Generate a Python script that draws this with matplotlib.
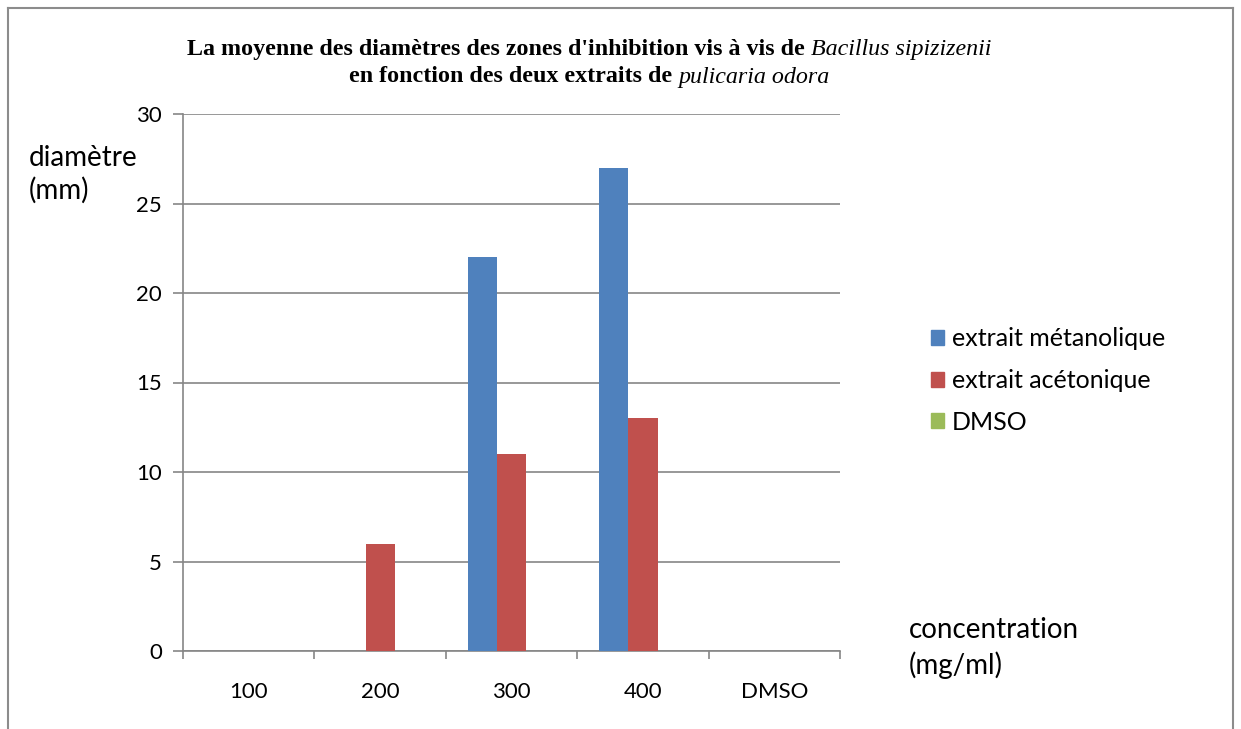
import numpy as np
import matplotlib.pyplot as plt
from matplotlib.lines import Line2D
from matplotlib.patches import Patch

categories = ['100', '200', '300', '400', 'DMSO']
series_names = ['extrait métanolique', 'extrait acétonique', 'DMSO']
methanol = [0, 0, 22, 27, 0]
acetone = [0, 6, 11, 13, 0]
dmso = [0, 0, 0, 0, 0]
colors = ['#4F81BD', '#C0504D', '#9BBB59']

W, H = 1241, 729
fig = plt.figure(figsize=(W / 100, H / 100), dpi=100)
ax = fig.add_axes([183 / W, 1 - 651 / H, (840 - 183) / W, (651 - 114) / H])

sans = ['Lato', 'DejaVu Sans']
grid_c = '#868686'

x = np.arange(len(categories))
bw = 1 / 4.5
for i, (vals, c) in enumerate(zip([methanol, acetone, dmso], colors)):
    ax.bar(x + (i - 1) * bw, vals, width=bw, color=c, zorder=3)

ax.set_xlim(-0.5, len(categories) - 0.5)
ax.set_ylim(0, 30)
ax.set_yticks(range(0, 31, 5))
ax.set_xticks(x)
ax.set_xticklabels(categories)
ax.set_xticks(np.arange(-0.5, len(categories), 1), minor=True)
ax.tick_params(axis='x', which='major', length=0, pad=22, labelsize=16)
ax.tick_params(axis='x', which='minor', length=6, color=grid_c, width=1.2)
ax.tick_params(axis='y', length=7, color=grid_c, width=1.2, labelsize=16, pad=8)
for lab in ax.get_xticklabels() + ax.get_yticklabels():
    lab.set_family(sans)
ax.yaxis.grid(True, color=grid_c, linewidth=1.2, zorder=0)
ax.set_axisbelow(True)
for s in ['top', 'right']:
    ax.spines[s].set_visible(False)
for s in ['left', 'bottom']:
    ax.spines[s].set_color(grid_c)
    ax.spines[s].set_linewidth(1.2)

# axis labels as free text
fig.text(29 / W, 1 - 158 / H, 'diamètre', fontsize=20, family=sans, va='center')
fig.text(29 / W, 1 - 190 / H, '(mm)', fontsize=20, family=sans, va='center')
fig.text(909 / W, 1 - 630 / H, 'concentration', fontsize=20, family=sans, va='center')
fig.text(909 / W, 1 - 665 / H, '(mg/ml)', fontsize=20, family=sans, va='center')

# legend
handles = [Patch(color=c) for c in colors]
leg = fig.legend(handles, series_names, loc='upper left',
                 bbox_to_anchor=(908 / W, 1 - 305 / H), frameon=False,
                 prop={'family': sans, 'size': 18}, handlelength=0.55,
                 handleheight=0.55, handletextpad=0.3, labelspacing=0.74)

# title with mixed bold / italic runs
renderer = fig.canvas.get_renderer()
serif = 'Liberation Serif'
title_lines = [
    [('La moyenne des diamètres des zones d\'inhibition vis à vis de ', 'normal', 'bold'),
     ('Bacillus sipizizenii', 'italic', 'normal')],
    [('en fonction des deux extraits de ', 'normal', 'bold'),
     ('pulicaria odora', 'italic', 'normal')],
]
title_y = [49, 77]
cx = 589
for parts, yy in zip(title_lines, title_y):
    texts = [fig.text(0, 1 - yy / H, s, fontsize=17.3, family=serif, style=st,
                      weight=wt, va='center', ha='left') for s, st, wt in parts]
    widths = [t.get_window_extent(renderer).width for t in texts]
    x0 = cx - sum(widths) / 2
    for t, w in zip(texts, widths):
        t.set_x(x0 / W)
        x0 += w

# outer frame
for xs, ys in [([8, 1233], [8, 8]), ([8, 8], [8, 729]), ([1233, 1233], [8, 729])]:
    fig.add_artist(Line2D([v / W for v in xs], [1 - v / H for v in ys],
                          color='#8C8C8C', linewidth=1.5))

fig.savefig('out.png', dpi=100)
